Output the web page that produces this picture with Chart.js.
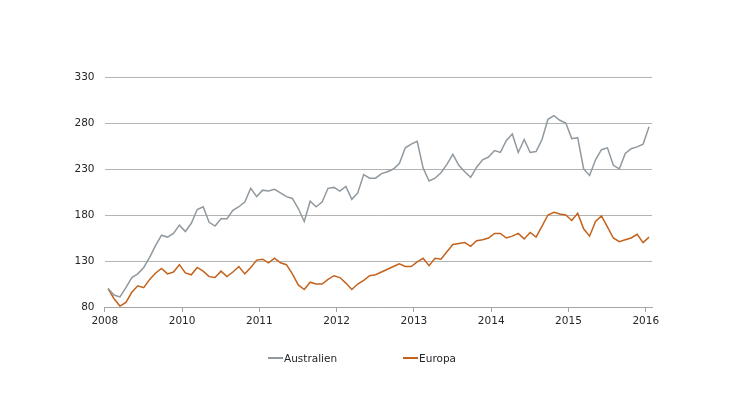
<!DOCTYPE html>
<html>
<head>
<meta charset="utf-8">
<script src="https://cdn.jsdelivr.net/npm/chart.js@4.4.1/dist/chart.umd.min.js"></script>
<style>
  html, body { margin: 0; padding: 0; background: #fff; }
  #wrap { position: relative; width: 730px; height: 411px; }
  #legend {
    position: absolute; left: 0; top: 352px; width: 724px;
    display: flex; justify-content: center; gap: 66px;
    font-family: 'DejaVu Sans', Verdana, sans-serif; font-size: 10.5px; color: #262626;
  }
  #legend .item { display: flex; align-items: center; }
  #legend .swatch { width: 15px; height: 2px; margin-right: 1px; }
</style>
</head>
<body>
<div id="wrap">
  <canvas id="chart" width="730" height="411"></canvas>
  <div id="legend"></div>
</div>
<script>
  // Jahresbeschriftung der x-Achse
  const yearLabels = ['2008', '2010', '2011', '2012', '2013', '2014', '2015', '2016'];
  const yTicks = [80, 130, 180, 230, 280, 330];

  const australien = [
    100, 93, 91, 101, 112, 116, 123, 134, 147, 158, 156, 160, 169,
    162, 171, 186, 189, 172, 168, 176, 176, 185, 189, 194, 209, 200,
    207, 206, 208, 204, 200, 198, 187, 173, 195, 189, 194, 209, 210,
    206, 211, 197, 204, 224, 220, 220, 225, 227, 230, 236, 253, 257,
    260, 231, 217, 220, 226, 235, 246, 234, 227, 221, 232, 240, 243,
    250, 248, 261, 268, 248, 262, 248, 249, 262, 284, 288, 283, 280,
    263, 264, 230, 223, 240, 251, 253, 234, 230, 247, 252, 254, 257, 276
  ];

  const europa = [
    100, 89, 81, 85, 96, 103, 101, 110, 117, 122, 116, 118, 126,
    117, 115, 123, 119, 113, 112, 119, 113, 118, 124, 116, 123, 131,
    132, 128, 133, 128, 126, 116, 104, 99, 107, 105, 105, 110, 114,
    112, 106, 99, 105, 109, 114, 115, 118, 121, 124, 127, 124, 124,
    129, 133, 125, 133, 132, 140, 148, 149, 150, 146, 152, 153, 155,
    160, 160, 155, 157, 160, 154, 161, 156, 168, 180, 183, 181, 180,
    174, 182, 165, 157, 173, 179, 167, 155, 151, 153, 155, 159, 150, 156
  ];

  const seriesNames = ['Australien', 'Europa'];
  const seriesColors = ['#8f999f', '#c4621c'];

  Chart.defaults.font.family = "'DejaVu Sans', Verdana, sans-serif";
  Chart.defaults.font.size = 10.5;
  Chart.defaults.color = '#262626';

  function toPoints(arr) {
    return arr.map((v, i) => ({ x: i, y: v }));
  }

  const datasets = [australien, europa].map((arr, k) => ({
    label: seriesNames[k],
    data: toPoints(arr),
    borderColor: seriesColors[k],
    backgroundColor: seriesColors[k],
    borderWidth: 1.5,
    pointRadius: 0,
    tension: 0,
    fill: false
  }));

  new Chart(document.getElementById('chart'), {
    type: 'line',
    data: { datasets },
    options: {
      responsive: false,
      animation: false,
      layout: { padding: { top: 77, right: 78, bottom: 74, left: 0 } },
      plugins: { legend: { display: false }, tooltip: { enabled: false } },
      scales: {
        x: {
          type: 'linear',
          min: -0.6,
          max: 91.5,
          afterFit: a => { a.height = 30; },
          afterBuildTicks: a => {
            a.ticks = yearLabels.map((_, k) => ({ value: -0.55 + 13 * k }));
          },
          ticks: {
            autoSkip: false,
            maxRotation: 0,
            padding: 3,
            callback: (v, i) => yearLabels[i]
          },
          grid: { drawOnChartArea: false, drawTicks: true, tickLength: 5, color: '#a6a6a6' },
          border: { display: true, color: '#a6a6a6' }
        },
        y: {
          min: 80,
          max: 330,
          afterFit: a => { a.width = 104.5; },
          afterBuildTicks: a => { a.ticks = yTicks.map(v => ({ value: v })); },
          ticks: { padding: 10 },
          grid: { drawTicks: false, color: '#b3b3b3' },
          border: { display: false }
        }
      }
    }
  });

  // Legende
  const legend = document.getElementById('legend');
  legend.innerHTML = seriesNames.map((n, k) => `
    <div class="item"><span class="swatch" style="background:${seriesColors[k]}"></span><span>${n}</span></div>`).join('');
</script>
</body>
</html>
